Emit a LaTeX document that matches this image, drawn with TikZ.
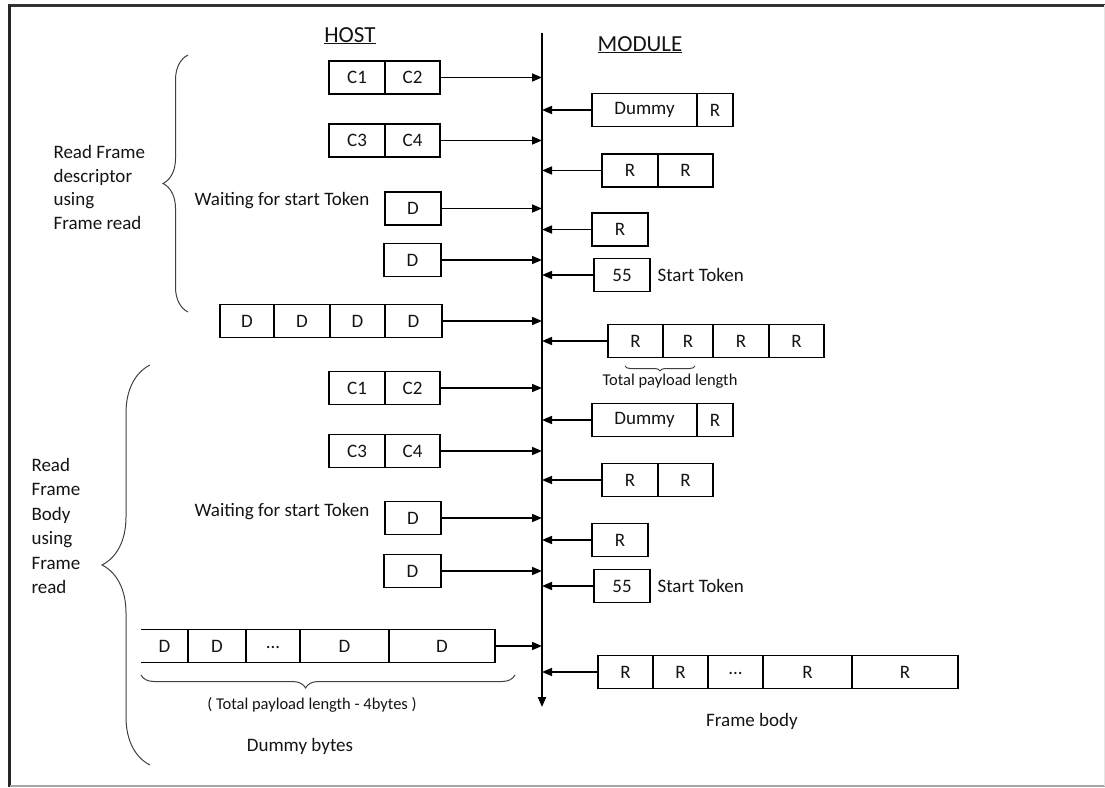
\documentclass[tikz,border=0pt]{standalone}
\usepackage{fontspec}
\setmainfont{Carlito}
\usetikzlibrary{positioning,arrows.meta,decorations.pathreplacing}

\begin{document}
\begin{tikzpicture}[x=1pt,y=-1pt,
  every node/.style={font=\fontsize{19}{23.5}\selectfont,text=black!92},
  cell/.style={draw,line width=1.7pt,outer sep=0pt,inner sep=0pt,minimum height=33pt},
  msg/.style={line width=1.6pt,-{Triangle[length=10pt,width=8pt]}},
  brace/.style={decorate,line width=1pt,black!75},
  head/.style={font=\fontsize{23}{27}\selectfont,anchor=base}]
\useasboundingbox (0,0) rectangle (1105,787);
% frame round the sheet
\draw[line width=3pt,black!80] (8,5) -- (1105,5);
\draw[line width=3pt,black!85] (9.5,5) -- (9.5,787);
\draw[line width=1.5pt,black!35] (9.5,786) -- (1105,786);
\draw[line width=1pt,black!10] (1104.5,5) -- (1104.5,786);
% headings and time line
\node[head] (host) at (350,42) {\underline{HOST}};
\node[head] (module) at (640,51) {\underline{MODULE}};
\coordinate (lifetop) at (542,33);
\coordinate (lifebot) at (542,707);
\draw[line width=2pt,-{Triangle[length=10pt,width=8pt]}] (lifetop) -- (lifebot);
% host side: frame descriptor
\node[cell,minimum width=56pt,anchor=west] (h1a) at (329,77.5) {C1};
\node[cell,minimum width=55pt,right=0pt of h1a] (h1b) {C2};
\node[cell,minimum width=56pt,anchor=west] (h2a) at (329,140.5) {C3};
\node[cell,minimum width=55pt,right=0pt of h2a] (h2b) {C4};
\node (wait1) at (282,201) {Waiting for start Token};
\node[cell,minimum width=56pt,anchor=west] (h3a) at (385,208.5) {D};
\node[cell,minimum width=57pt,anchor=west] (h4a) at (384,260) {D};
\node[cell,minimum width=54pt,anchor=west] (h5a) at (220,321) {D};
\node[cell,minimum width=56pt,right=0pt of h5a] (h5b) {D};
\node[cell,minimum width=55pt,right=0pt of h5b] (h5c) {D};
\node[cell,minimum width=57pt,right=0pt of h5c] (h5d) {D};
% host side: frame body
\node[cell,minimum width=56pt,anchor=west] (h6a) at (329,388) {C1};
\node[cell,minimum width=55pt,right=0pt of h6a] (h6b) {C2};
\node[cell,minimum width=56pt,anchor=west] (h7a) at (329,451) {C3};
\node[cell,minimum width=55pt,right=0pt of h7a] (h7b) {C4};
\node (wait2) at (282,512) {Waiting for start Token};
\node[cell,minimum width=56pt,anchor=west] (h8a) at (385,518) {D};
\node[cell,minimum width=57pt,anchor=west] (h9a) at (384,571) {D};
\node[cell,draw=none,minimum width=47pt,anchor=west] (h10a) at (141,646) {D};
\draw[line width=1.7pt] (h10a.north west) -- (h10a.north east) (h10a.south west) -- (h10a.south east);
\node[cell,minimum width=58pt,right=0pt of h10a] (h10b) {D};
\node[cell,minimum width=54pt,right=0pt of h10b] (h10c) {\raisebox{-5pt}{...}};
\node[cell,minimum width=89pt,right=0pt of h10c] (h10d) {D};
\node[cell,minimum width=106pt,right=0pt of h10d] (h10e) {D};
% module side: frame descriptor
\node[cell,minimum width=105pt,anchor=west] (m1a) at (592,110) {Dummy};
\node[cell,minimum width=36pt,right=0pt of m1a] (m1b) {R};
\node[cell,minimum width=56pt,anchor=west] (m2a) at (602,170.5) {R};
\node[cell,minimum width=55pt,right=0pt of m2a] (m2b) {R};
\node[cell,minimum width=56pt,anchor=west] (m3a) at (592,229.5) {R};
\node[cell,minimum width=56pt,anchor=west] (m4a) at (594,275) {55};
\node[anchor=west] (st1) at (654,275) {Start Token};
\node[cell,minimum width=55pt,anchor=west] (m5a) at (608,341) {R};
\node[cell,minimum width=50pt,right=0pt of m5a] (m5b) {R};
\node[cell,minimum width=56pt,right=0pt of m5b] (m5c) {R};
\node[cell,minimum width=55pt,right=0pt of m5c] (m5d) {R};
\node[font=\fontsize{16.5}{20}\selectfont] (tpl) at (670,381) {Total payload length};
% module side: frame body
\node[cell,minimum width=105pt,anchor=west] (m6a) at (592,420) {Dummy};
\node[cell,minimum width=36pt,right=0pt of m6a] (m6b) {R};
\node[cell,minimum width=56pt,anchor=west] (m7a) at (602,480) {R};
\node[cell,minimum width=55pt,right=0pt of m7a] (m7b) {R};
\node[cell,minimum width=56pt,anchor=west] (m8a) at (592,540) {R};
\node[cell,minimum width=56pt,anchor=west] (m9a) at (594,586) {55};
\node[anchor=west] (st2) at (654,586) {Start Token};
\node[cell,minimum width=55pt,anchor=west] (m10a) at (598,672) {R};
\node[cell,minimum width=55pt,right=0pt of m10a] (m10b) {R};
\node[cell,minimum width=55pt,right=0pt of m10b] (m10c) {\raisebox{-5pt}{...}};
\node[cell,minimum width=89pt,right=0pt of m10c] (m10d) {R};
\node[cell,minimum width=106pt,right=0pt of m10d] (m10e) {R};
\node (fbody) at (752,721) {Frame body};
% messages onto the time line
\foreach \n in {h1b,h2b,h3a,h4a,h5d,h6b,h7b,h8a,h9a,h10e}
  \draw[msg] (\n.east) -- (\n.east -| lifetop);
\foreach \n in {m1a,m2a,m3a,m4a,m5a,m6a,m7a,m8a,m9a,m10a}
  \draw[msg] (\n.west) -- (\n.west -| lifetop);
% braces and their notes
\draw[brace,decoration={brace,amplitude=25pt}] (188,312) -- (188,55);
\node[align=left,anchor=west] (rfd) at (50,187.5) {Read Frame\\descriptor\\using\\Frame read};
\draw[brace,decoration={brace,amplitude=48pt}] (150,765) -- (150,365);
\node[align=left,anchor=west,font=\fontsize{19}{24.4}\selectfont] (rfb) at (28,526) {Read\\Frame\\Body\\using\\Frame\\read};
\draw[brace,decoration={brace,amplitude=13pt,aspect=0.56}] (515,675) -- (141,675);
\node[font=\fontsize{16.5}{20}\selectfont] (tplm) at (312,705) {( Total payload length - 4bytes )};
\node (dummyb) at (300,746) {Dummy bytes};
\draw[brace,decoration={brace,amplitude=5pt}] (695,366) -- (625,366);
\end{tikzpicture}
\end{document}
